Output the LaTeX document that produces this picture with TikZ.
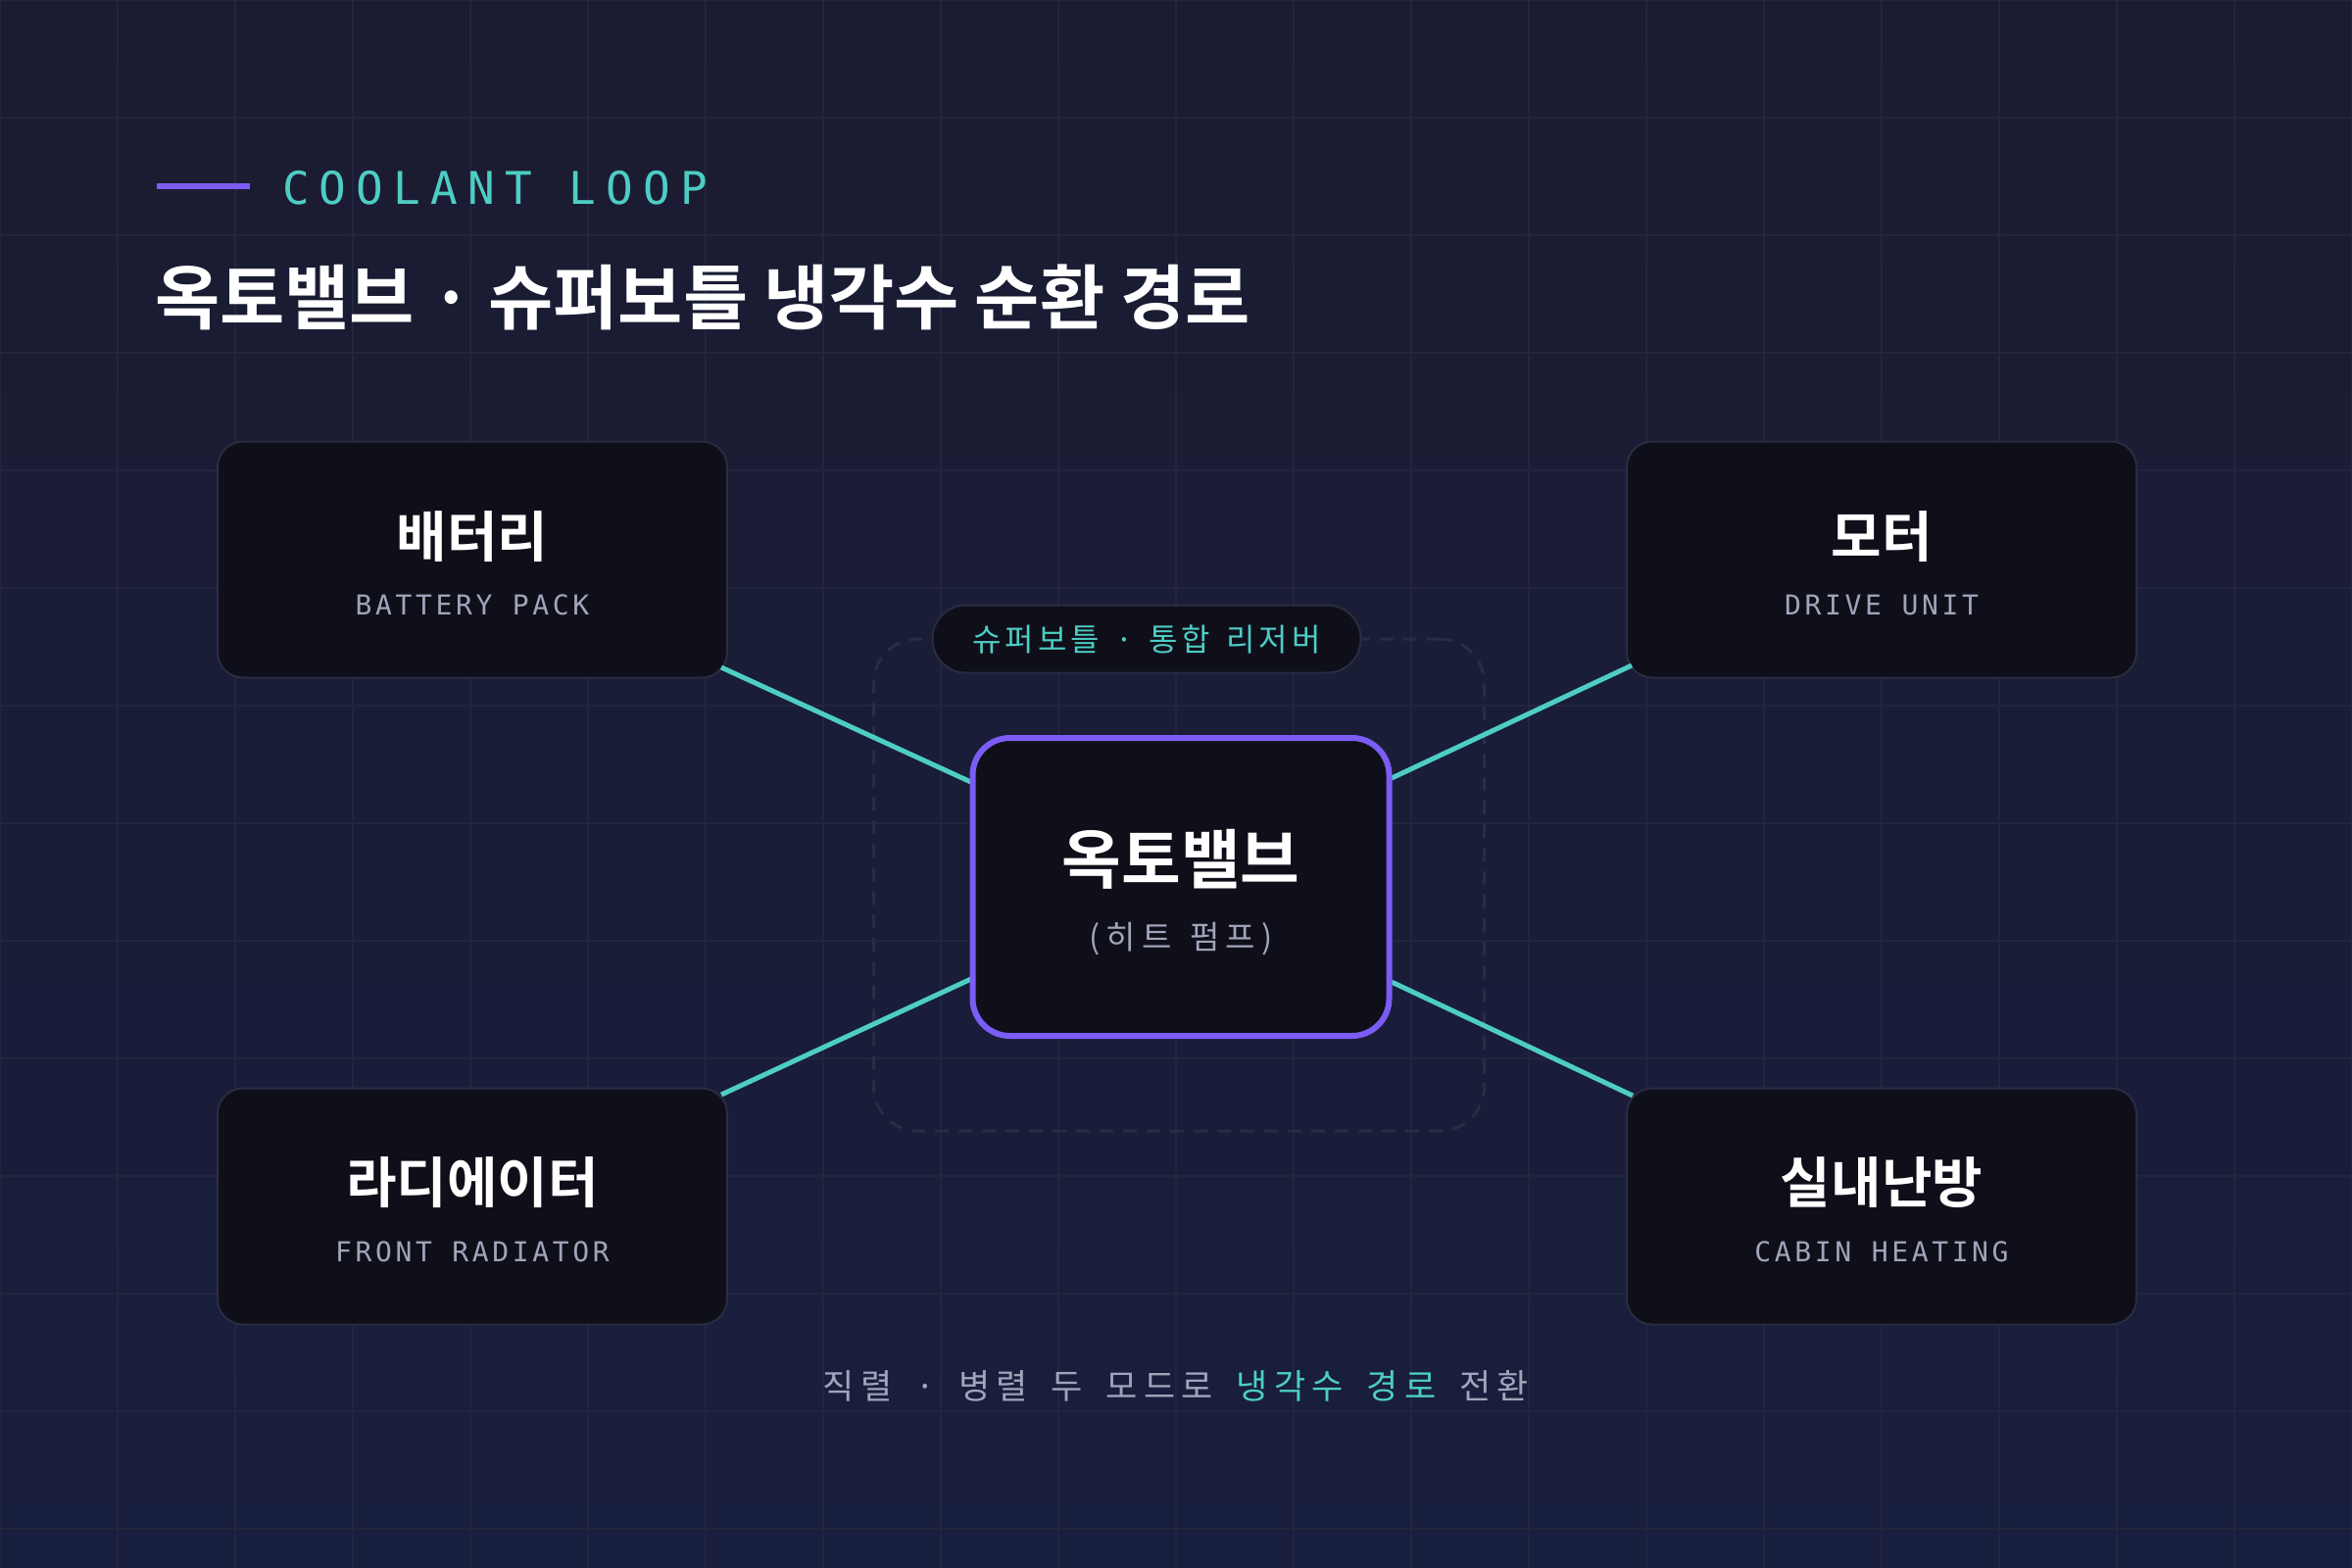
\documentclass[tikz,border=0pt]{standalone}
\usepackage{fontspec}
\setmainfont{Noto Sans CJK KR}
\newfontfamily\krb{Noto Sans CJK KR Bold}
\newfontfamily\krr[LetterSpace=12]{Noto Sans CJK KR}
\newfontfamily\krw[LetterSpace=18]{Noto Sans CJK KR}
\newfontfamily\monoA[LetterSpace=22]{DejaVu Sans Mono}
\newfontfamily\monoB[LetterSpace=13]{DejaVu Sans Mono}
\definecolor{bgA}{HTML}{1B1C31}
\definecolor{bgB}{HTML}{181E3D}
\definecolor{gridc}{HTML}{22253D}
\definecolor{boxf}{HTML}{0F0F1A}
\definecolor{boxd}{HTML}{2A2C42}
\definecolor{teal}{HTML}{4ECDC4}
\definecolor{purp}{HTML}{7B5CF5}
\definecolor{greyt}{HTML}{A3A3BA}
\begin{document}
\begin{tikzpicture}[x=1pt,y=-1pt,
  card/.style={draw=boxd,line width=2pt,fill=boxf,rounded corners=26pt,minimum width=520pt,minimum height=241pt,inner sep=0pt},
  ttl/.style={text=white,font=\krb\fontsize{56}{60}\selectfont},
  sub/.style={text=greyt,font=\monoB\fontsize{28}{32}\selectfont},
  link/.style={draw=teal,line width=5pt}]
\useasboundingbox (0,0) rectangle (2400,1600);
\shade[top color=bgA,bottom color=bgB] (0,0) rectangle (2400,1600);
\foreach \i in {0,120,...,2400} \draw[gridc,line width=2pt] (\i,0) -- (\i,1600);
\foreach \j in {0,120,...,1560} \draw[gridc,line width=2pt] (0,\j) -- (2400,\j);
% header
\coordinate (h1) at (160,190); \coordinate (h2) at (255,190);
\draw[purp,line width=6pt] (h1) -- (h2);
\node[anchor=west,text=teal,font=\monoA\fontsize{46}{50}\selectfont,inner sep=0pt] (hd) at (288,192) {COOLANT LOOP};
\node[anchor=base west,text=white,font=\krb\fontsize{72}{78}\selectfont,inner sep=0pt] (title) at (158,330) {옥토밸브 · 슈퍼보틀 냉각수 순환 경로};
% dashed group
\node[draw=boxd,dashed,dash pattern=on 14pt off 10pt,line width=3pt,rounded corners=45pt,minimum width=623pt,minimum height=502pt] (grp) at (1203,903) {};
\node[draw=boxd,line width=2pt,fill=boxf,rounded corners=34pt,minimum width=437pt,minimum height=69pt,inner sep=0pt,text=teal,font=\krr\fontsize{32}{34}\selectfont] (pill) at (1170,652) {슈퍼보틀 \,·\, 통합 \,리저버};
% cards
\node[card] (bat) at (482,571) {};
\node[card] (mot) at (1920,571) {};
\node[card] (rad) at (482,1231) {};
\node[card] (cab) at (1920,1231) {};
% connectors
\coordinate (b1) at (736,681); \coordinate (c1) at (993,799);
\coordinate (m1) at (1665,679); \coordinate (c2) at (1420,794);
\coordinate (r1) at (736,1117); \coordinate (c3) at (993,998);
\coordinate (k1) at (1666,1118); \coordinate (c4) at (1420,1002);
\draw[link] (b1) -- (c1); \draw[link] (m1) -- (c2);
\draw[link] (r1) -- (c3); \draw[link] (k1) -- (c4);
\node[draw=purp,line width=6pt,fill=boxf,rounded corners=38pt,minimum width=425pt,minimum height=304pt] (ctr) at (1205,905) {};
% texts
\node[ttl] (t1) at (482,548) {배터리};
\node[sub] (s1) at (482,617) {BATTERY PACK};
\node[ttl] (t2) at (1920,548) {모터};
\node[sub] (s2) at (1920,617) {DRIVE UNIT};
\node[ttl] (t3) at (482,1207) {라디에이터};
\node[sub] (s3) at (482,1277) {FRONT RADIATOR};
\node[ttl] (t4) at (1920,1207) {실내난방};
\node[sub] (s4) at (1920,1277) {CABIN HEATING};
\node[text=white,font=\krb\fontsize{66}{70}\selectfont] (t5) at (1205,877) {옥토밸브};
\node[text=greyt,font=\krw\fontsize{33}{36}\selectfont] (s5) at (1205,958) {(히트 \,펌프)};
\node[font=\krw\fontsize{35}{38}\selectfont,text=greyt] (foot) at (1200,1414) {직렬 \;·\; 병렬 \;두 \;모드로 \;\textcolor{teal}{냉각수 \;경로} \;전환};
\end{tikzpicture}
\end{document}
